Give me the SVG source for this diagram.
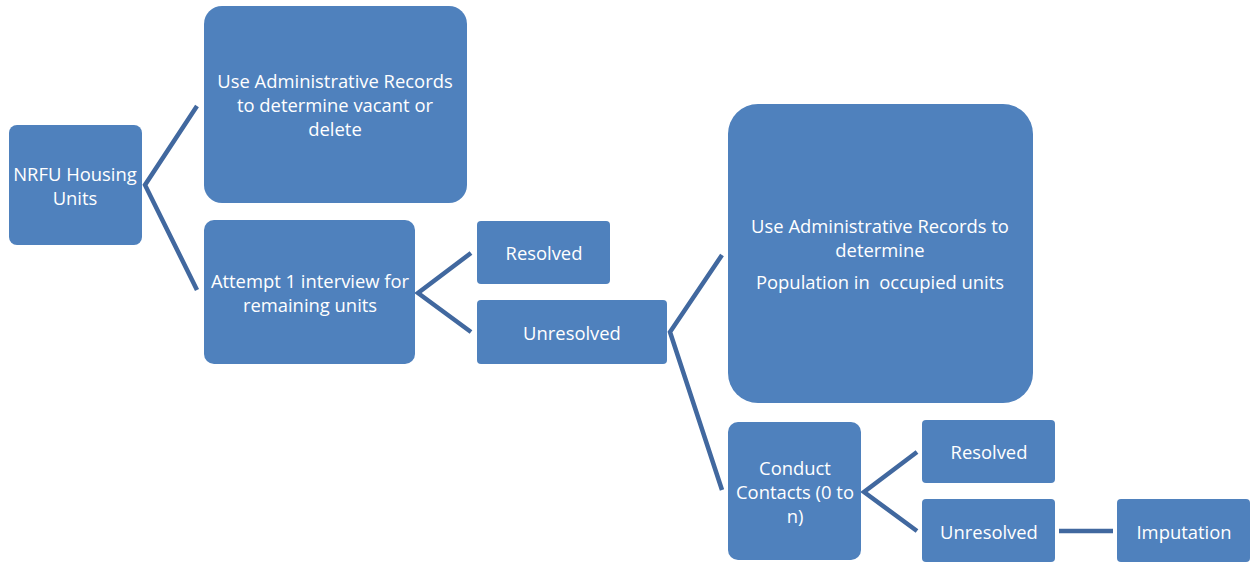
<svg xmlns="http://www.w3.org/2000/svg" width="1256" height="562" viewBox="0 0 1256 562">
<style>
.n{fill:#4F81BD;}
.t{fill:#fff;font-family:"Open Sans","Liberation Sans",sans-serif;font-size:18.4px;text-anchor:middle;dominant-baseline:central;}
.c{stroke:#41689F;stroke-width:4.5;fill:none;stroke-linejoin:miter;}
</style>
<rect width="1256" height="562" fill="#fff"/>
<g id="connectors">
<polyline class="c" points="197,106 145,185 197,290"/>
<polyline class="c" points="471,253 418,293 471,332"/>
<polyline class="c" points="722,255 670,332 722,490"/>
<polyline class="c" points="917,452 864,492 917,531"/>
<line class="c" x1="1059" y1="531" x2="1113" y2="531" stroke-width="5"/>
</g>
<g id="nrfu"><rect class="n" x="9" y="125" width="133" height="120" rx="8"/>
<text class="t" x="75" y="173">NRFU Housing</text><text class="t" x="75" y="197">Units</text></g>
<g id="admin1"><rect class="n" x="204" y="6" width="263" height="197" rx="18"/>
<text class="t" x="335" y="80">Use Administrative Records</text><text class="t" x="335" y="104">to determine vacant or</text><text class="t" x="335" y="128">delete</text></g>
<g id="attempt"><rect class="n" x="204" y="220" width="211" height="144" rx="10"/>
<text class="t" x="310" y="280">Attempt 1 interview for</text><text class="t" x="310" y="304">remaining units</text></g>
<g id="resolved1"><rect class="n" x="477" y="221" width="133" height="63" rx="4"/>
<text class="t" x="544" y="252">Resolved</text></g>
<g id="unresolved1"><rect class="n" x="477" y="300" width="190" height="64" rx="4"/>
<text class="t" x="572" y="332">Unresolved</text></g>
<g id="admin2"><rect class="n" x="728" y="104" width="305" height="299" rx="30"/>
<text class="t" x="880" y="225">Use Administrative Records to</text><text class="t" x="880" y="249">determine</text><text class="t" x="880" y="281" xml:space="preserve">Population in  occupied units</text></g>
<g id="conduct"><rect class="n" x="728" y="422" width="133" height="138" rx="10"/>
<text class="t" x="795" y="467">Conduct</text><text class="t" x="795" y="491">Contacts (0 to</text><text class="t" x="795" y="515">n)</text></g>
<g id="resolved2"><rect class="n" x="922" y="420" width="133" height="63" rx="4"/>
<text class="t" x="989" y="451">Resolved</text></g>
<g id="unresolved2"><rect class="n" x="922" y="499" width="133" height="63" rx="4"/>
<text class="t" x="989" y="531">Unresolved</text></g>
<g id="imputation"><rect class="n" x="1117" y="499" width="133" height="63" rx="4"/>
<text class="t" x="1184" y="531">Imputation</text></g>
</svg>
